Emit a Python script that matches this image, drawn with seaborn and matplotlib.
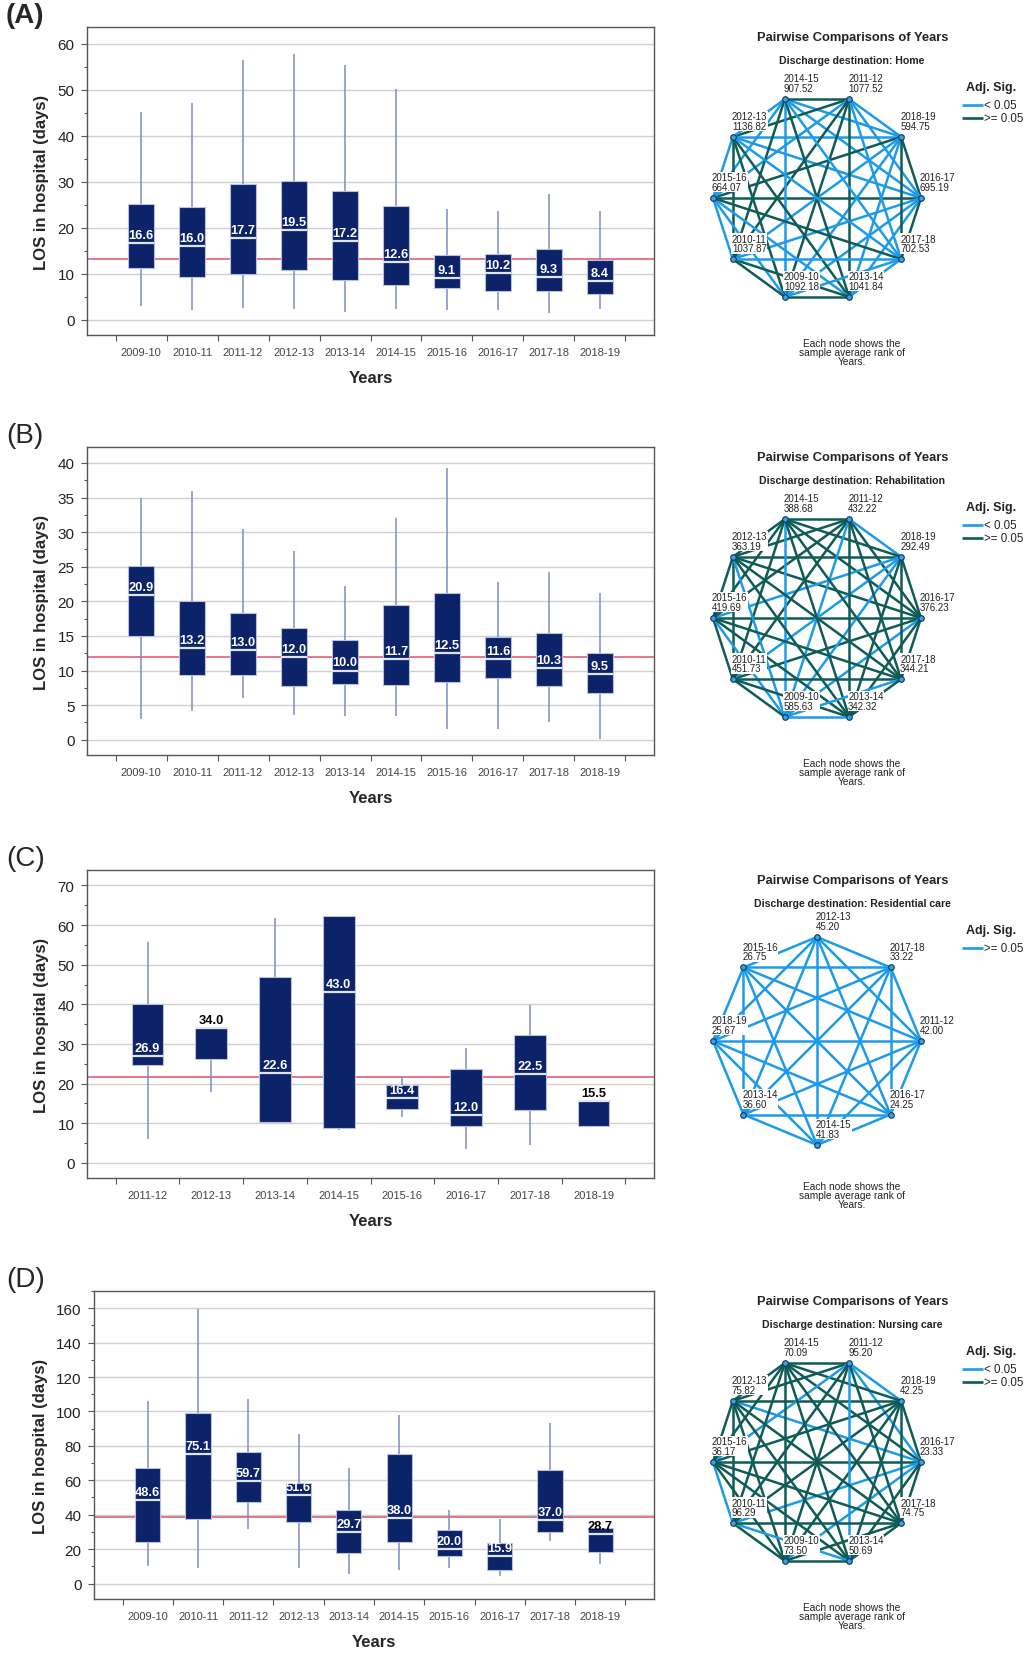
#!/usr/bin/env python3
"""
LOS in hospital by financial year and discharge destination,
with the pairwise comparison (Dunn) graphs next to each panel.
"""

import numpy as np
import pandas as pd
import matplotlib
matplotlib.use("Agg")
import matplotlib.pyplot as plt
import seaborn as sns
from matplotlib.ticker import MultipleLocator

# Figure size in pixels (dpi 100)
W, H = 1024, 1658

NAVY = '#0c2369'
WHISK = '#7f8bc3'
MEDIAN_LINE = '#e1e5f2'
RED = '#e25068'
BLUE = '#1d9ae8'
GREEN = '#0f5c57'

YEARS = ['2009-10', '2010-11', '2011-12', '2012-13', '2013-14',
         '2014-15', '2015-16', '2016-17', '2017-18', '2018-19']
YEARS_RES = ['2011-12', '2012-13', '2013-14', '2014-15',
             '2015-16', '2016-17', '2017-18', '2018-19']

# (A) Home: whisker low, Q1, median, Q3, whisker high
HOME_LOW = [2.9, 2.1, 2.5, 2.3, 1.8, 2.4, 2.2, 2.2, 1.4, 2.4]
HOME_Q1 = [11.2, 9.3, 9.9, 10.9, 8.6, 7.5, 6.9, 6.3, 6.3, 5.5]
HOME_MED = [16.6, 16.0, 17.7, 19.5, 17.2, 12.6, 9.1, 10.2, 9.3, 8.4]
HOME_Q3 = [25.1, 24.6, 29.5, 30.1, 27.9, 24.8, 14.0, 14.4, 15.3, 12.9]
HOME_HIGH = [45.1, 47.0, 56.5, 57.8, 55.4, 50.1, 24.0, 23.6, 27.3, 23.6]
HOME_REF = 13.1

# (B) Rehabilitation
REHAB_LOW = [3.0, 4.1, 6.1, 3.6, 3.4, 3.5, 1.6, 1.6, 2.5, 0.1]
REHAB_Q1 = [15.0, 9.3, 9.3, 7.8, 8.0, 7.9, 8.4, 8.9, 7.8, 6.8]
REHAB_MED = [20.9, 13.2, 13.0, 12.0, 10.0, 11.7, 12.5, 11.6, 10.3, 9.5]
REHAB_Q3 = [25.1, 20.1, 18.3, 16.1, 14.4, 19.4, 21.2, 14.8, 15.4, 12.6]
REHAB_HIGH = [35.0, 35.9, 30.4, 27.3, 22.2, 32.0, 39.3, 22.8, 24.3, 21.2]
REHAB_REF = 11.9

# (C) Residential care
RES_LOW = [6.1, 17.8, 10.3, 8.4, 11.7, 3.6, 4.4, 9.4]
RES_Q1 = [24.6, 26.3, 10.4, 8.9, 13.5, 9.4, 13.4, 9.4]
RES_MED = [26.9, 34.0, 22.6, 43.0, 16.4, 12.0, 22.5, 15.5]
RES_Q3 = [40.0, 34.0, 47.0, 62.2, 19.6, 23.6, 32.2, 15.9]
RES_HIGH = [55.7, 34.0, 61.8, 62.2, 21.7, 29.0, 39.9, 15.9]
RES_REF = 21.6

# (D) Nursing care
NURS_LOW = [10.0, 9.2, 31.6, 9.2, 5.7, 8.0, 9.0, 4.2, 24.5, 11.5]
NURS_Q1 = [24.0, 37.7, 47.3, 35.8, 17.8, 24.0, 15.9, 7.7, 29.7, 18.2]
NURS_MED = [48.6, 75.1, 59.7, 51.6, 29.7, 38.0, 20.0, 15.9, 37.0, 28.7]
NURS_Q3 = [67.4, 98.9, 76.6, 58.2, 42.5, 75.3, 31.2, 23.8, 66.1, 32.0]
NURS_HIGH = [106.3, 159.6, 107.3, 86.8, 67.1, 97.7, 42.5, 37.4, 93.3, 32.0]
NURS_REF = 38.7

# Median labels printed in black above the box
RES_DARK_LABELS = ['2012-13', '2018-19']
NURS_DARK_LABELS = ['2018-19']

# Pairwise graphs: node order counter-clockwise starting at the right
RING = ['2016-17', '2018-19', '2011-12', '2014-15', '2012-13',
        '2015-16', '2010-11', '2009-10', '2013-14', '2017-18']
RING_RES = ['2011-12', '2017-18', '2012-13', '2015-16',
            '2018-19', '2013-14', '2014-15', '2016-17']

HOME_RANK = [695.19, 594.75, 1077.52, 907.52, 1136.82,
             664.07, 1037.87, 1092.18, 1041.84, 702.53]
REHAB_RANK = [376.23, 292.49, 432.22, 388.68, 363.19,
              419.69, 451.73, 585.63, 342.32, 344.21]
RES_RANK = [42.00, 33.22, 45.20, 26.75, 25.67, 36.60, 41.83, 24.25]
NURS_RANK = [23.33, 42.25, 95.20, 70.09, 75.82,
             36.17, 96.29, 73.50, 50.69, 74.75]

# Pairs with adj. sig. < 0.05
HOME_SIG = [
    ('2009-10', '2015-16'), ('2009-10', '2016-17'), ('2009-10', '2017-18'), ('2009-10', '2018-19'),
    ('2010-11', '2015-16'), ('2010-11', '2016-17'), ('2010-11', '2017-18'), ('2010-11', '2018-19'),
    ('2011-12', '2015-16'), ('2011-12', '2016-17'), ('2011-12', '2017-18'), ('2011-12', '2018-19'),
    ('2012-13', '2015-16'), ('2012-13', '2016-17'), ('2012-13', '2017-18'), ('2012-13', '2018-19'),
    ('2013-14', '2015-16'), ('2013-14', '2016-17'), ('2013-14', '2017-18'), ('2013-14', '2018-19'),
    ('2014-15', '2015-16'), ('2014-15', '2016-17'), ('2014-15', '2017-18'), ('2014-15', '2018-19'),
    ('2014-15', '2012-13'), ('2014-15', '2009-10'),
]
REHAB_SIG = [
    ('2009-10', '2018-19'), ('2009-10', '2013-14'), ('2009-10', '2017-18'), ('2009-10', '2012-13'),
    ('2009-10', '2016-17'), ('2009-10', '2014-15'), ('2009-10', '2015-16'), ('2009-10', '2011-12'),
    ('2018-19', '2011-12'), ('2018-19', '2010-11'), ('2018-19', '2015-16'),
]
RES_SIG = []
NURS_SIG = [
    ('2011-12', '2018-19'), ('2011-12', '2015-16'), ('2011-12', '2013-14'), ('2011-12', '2016-17'),
    ('2012-13', '2016-17'), ('2010-11', '2016-17'), ('2010-11', '2015-16'), ('2010-11', '2013-14'),
    ('2009-10', '2016-17'),
]

LEGEND_TWO = [('< 0.05', BLUE), ('>= 0.05', GREEN)]
LEGEND_ONE = [('>= 0.05', BLUE)]

PANELS = [
    dict(tag='(A)', weight='bold', off=0, left=87, years=YEARS, xpad=1.06,
         stats=(HOME_LOW, HOME_Q1, HOME_MED, HOME_Q3, HOME_HIGH), ref=HOME_REF,
         ylim=(-3.3, 63.6), major=10, minor=5, dark=[],
         dest='Home', ring=RING, rank=HOME_RANK, sig=HOME_SIG,
         nonsig=GREEN, legend=LEGEND_TWO),
    dict(tag='(B)', weight='normal', off=420, left=87, years=YEARS, xpad=1.06,
         stats=(REHAB_LOW, REHAB_Q1, REHAB_MED, REHAB_Q3, REHAB_HIGH), ref=REHAB_REF,
         ylim=(-2.2, 42.3), major=5, minor=2.5, dark=[],
         dest='Rehabilitation', ring=RING, rank=REHAB_RANK, sig=REHAB_SIG,
         nonsig=GREEN, legend=LEGEND_TWO),
    dict(tag='(C)', weight='normal', off=843, left=87, years=YEARS_RES, xpad=0.95,
         stats=(RES_LOW, RES_Q1, RES_MED, RES_Q3, RES_HIGH), ref=RES_REF,
         ylim=(-3.8, 73.9), major=10, minor=5, dark=RES_DARK_LABELS,
         dest='Residential care', ring=RING_RES, rank=RES_RANK, sig=RES_SIG,
         nonsig=BLUE, legend=LEGEND_ONE),
    dict(tag='(D)', weight='normal', off=1264, left=94, years=YEARS, xpad=1.07,
         stats=(NURS_LOW, NURS_Q1, NURS_MED, NURS_Q3, NURS_HIGH), ref=NURS_REF,
         ylim=(-9.0, 170.0), major=20, minor=10, dark=NURS_DARK_LABELS,
         dest='Nursing care', ring=RING, rank=NURS_RANK, sig=NURS_SIG,
         nonsig=GREEN, legend=LEGEND_TWO),
]


def px_axes(fig, x0, y0, x1, y1):
    """Add axes from pixel box (top-left origin)."""
    return fig.add_axes([x0 / W, 1 - y1 / H, (x1 - x0) / W, (y1 - y0) / H])


def box_panel(ax, p):
    years = p['years']
    low, q1, med, q3, high = p['stats']
    rows = [(y, v) for y, *vals in zip(years, low, q1, med, q3, high) for v in vals]
    df = pd.DataFrame(rows, columns=['Years', 'LOS'])

    sns.boxplot(
        data=df, x='Years', y='LOS', order=years, ax=ax,
        width=0.5, whis=(0, 100), color=NAVY, saturation=1,
        showcaps=False, fliersize=0, linewidth=1,
        boxprops=dict(facecolor=NAVY, edgecolor='#b9c0de', linewidth=0.8, zorder=3),
        medianprops=dict(color=MEDIAN_LINE, linewidth=1.6, zorder=4),
        whiskerprops=dict(color=WHISK, linewidth=1.1, zorder=2),
    )

    # reference line sits behind the boxes
    ax.axhline(p['ref'], color=RED, linewidth=1.1, zorder=1.5)

    for i, (y, m) in enumerate(zip(years, med)):
        col = 'black' if y in p['dark'] else 'white'
        ax.annotate(f'{m:.1f}', (i, m), xytext=(0, 1.5), textcoords='offset points',
                    ha='center', va='bottom', color=col, fontsize=9.3,
                    fontweight='bold', zorder=6)

    n = len(years)
    ax.set_xlim(-p['xpad'], n - 1 + p['xpad'])
    ax.set_ylim(*p['ylim'])
    ax.set_xticks(range(n))
    ax.set_xticklabels(years)
    ax.set_xticks(np.arange(n + 1) - 0.5, minor=True)
    ax.tick_params(axis='x', which='major', length=0, pad=9, labelsize=8, labelcolor='#444444')
    ax.tick_params(axis='x', which='minor', length=4, color='#555555', width=0.8)

    ax.yaxis.set_major_locator(MultipleLocator(p['major']))
    ax.yaxis.set_minor_locator(MultipleLocator(p['minor']))
    ax.tick_params(axis='y', which='major', length=4, width=0.8, pad=5,
                   labelsize=11, labelcolor='#222222', color='#555555')
    ax.tick_params(axis='y', which='minor', length=2.5, width=0.8, color='#555555')

    ax.grid(axis='y', which='major', color='#d0d0d0', linewidth=1.0)
    ax.grid(axis='x', visible=False)
    ax.set_axisbelow(True)
    for s in ax.spines.values():
        s.set_visible(True)
        s.set_color('#555555')
        s.set_linewidth(1.0)

    ax.set_ylabel('LOS in hospital (days)', fontsize=12, fontweight='bold', labelpad=6)
    ax.set_xlabel('Years', fontsize=12, fontweight='bold', labelpad=9)


def network_panel(ax, p):
    ax.set_xlim(0, 324)
    ax.set_ylim(390, 0)
    ax.axis('off')

    ring = p['ring']
    n = len(ring)
    ang = np.deg2rad(np.arange(n) * 360.0 / n)
    cx, cy, r = 117, 199, 104
    pos = {y: (cx + r * np.cos(a), cy - r * np.sin(a)) for y, a in zip(ring, ang)}
    sig = {frozenset(pair) for pair in p['sig']}

    for i in range(n):
        for j in range(i + 1, n):
            a, b = ring[i], ring[j]
            col = BLUE if frozenset((a, b)) in sig else p['nonsig']
            ax.plot([pos[a][0], pos[b][0]], [pos[a][1], pos[b][1]],
                    color=col, linewidth=1.8, solid_capstyle='butt', zorder=1)

    for y, rk in zip(ring, p['rank']):
        x0, y0 = pos[y]
        ax.text(x0 - 1, y0 - 6, f'{y}\n{rk:.2f}', ha='left', va='bottom',
                fontsize=7, linespacing=0.95, color='#222222', zorder=3,
                bbox=dict(facecolor='white', edgecolor='none', pad=0.3))
        ax.plot(x0, y0, 'o', ms=4, mfc='#3aa2ea', mec='#0b3550', mew=0.8, zorder=4)

    ax.text(153, 38, 'Pairwise Comparisons of Years', ha='center', va='center',
            fontsize=9.3, fontweight='bold', color='#222222')
    ax.text(152, 61, f"Discharge destination: {p['dest']}", ha='center', va='center',
            fontsize=7.6, fontweight='bold', color='#222222')
    ax.text(291, 88, 'Adj. Sig.', ha='center', va='center',
            fontsize=9, fontweight='bold', color='#222222')
    for k, (lab, col) in enumerate(p['legend']):
        yy = 106 + 13 * k
        ax.plot([262, 283], [yy, yy], color=col, linewidth=1.9, solid_capstyle='butt')
        ax.text(284, yy, lab, ha='left', va='center', fontsize=8.3, color='#222222')

    ax.text(152, 353, 'Each node shows the\nsample average rank of\nYears.',
            ha='center', va='center', fontsize=7.3, linespacing=0.9, color='#222222')


def main():
    sns.set_style('ticks')
    plt.rcParams['font.family'] = ['Liberation Sans', 'DejaVu Sans']

    fig = plt.figure(figsize=(W / 100, H / 100), dpi=100)
    fig.patch.set_facecolor('white')

    for p in PANELS:
        off = p['off']
        fig.text(6 / W, 1 - (off + 3) / H, p['tag'], ha='left', va='top',
                 fontsize=20, fontweight=p['weight'])
        ax = px_axes(fig, p['left'], 28 + off, 654, 336 + off)
        box_panel(ax, p)
        net = px_axes(fig, 700, off, 1024, off + 390)
        network_panel(net, p)

    fig.savefig('out.png', dpi=100, facecolor='white')
    plt.close(fig)


if __name__ == '__main__':
    main()
